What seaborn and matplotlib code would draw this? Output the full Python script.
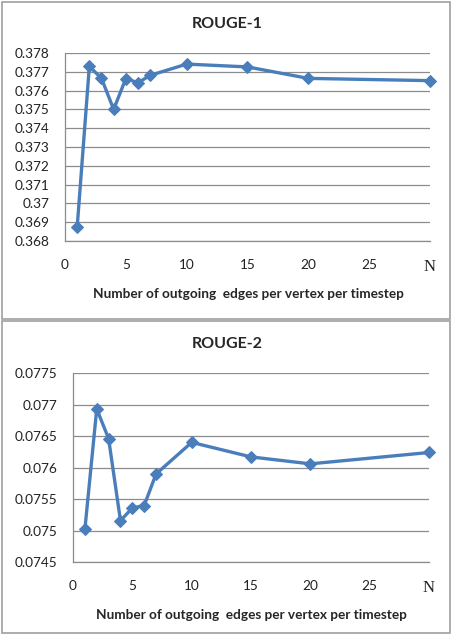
import numpy as np
import pandas as pd
import seaborn as sns
import matplotlib.pyplot as plt
from matplotlib.patches import Rectangle

# values (x = 30 is the "N" column)
edges = [1, 2, 3, 4, 5, 6, 7, 10, 15, 20, 30]
rouge1 = [0.36873, 0.37729, 0.37665, 0.37500, 0.37664, 0.37642, 0.37681,
          0.37741, 0.37726, 0.37665, 0.37653]
rouge2 = [0.07502, 0.07693, 0.07646, 0.07516, 0.07536, 0.07540, 0.07590,
          0.07640, 0.07617, 0.07606, 0.07624]
xticks = [0, 5, 10, 15, 20, 25, 30]
xtick_labels = ["0", "5", "10", "15", "20", "25", "N"]
r1_ticks = [0.368, 0.369, 0.37, 0.371, 0.372, 0.373, 0.374, 0.375, 0.376, 0.377, 0.378]
r2_ticks = [0.0745, 0.075, 0.0755, 0.076, 0.0765, 0.077, 0.0775]
xlabel = "Number of outgoing  edges per vertex per timestep"

sns.set_theme(style="white")
plt.rcParams["font.family"] = ["Lato", "DejaVu Sans"]

blue = "#4a7ebb"
grid = "#8c8c8c"

fig = plt.figure(figsize=(4.52, 6.34), dpi=100)

panels = [
    ("ROUGE-1", rouge1, r1_ticks, [0.1438, 0.6199, 0.8075, 0.2965], 0.962, 0.536, 0.549),
    ("ROUGE-2", rouge2, r2_ticks, [0.1615, 0.1131, 0.7876, 0.2986], 0.457, 0.030, 0.557),
]

for title, vals, yt, rect, ty, ly, lx in panels:
    ax = fig.add_axes(rect)
    df = pd.DataFrame({"x": edges, "y": vals})
    sns.lineplot(data=df, x="x", y="y", ax=ax, color=blue, lw=2.4,
                 marker="D", markersize=6.5, markeredgecolor=blue, clip_on=False)
    ax.set_xlim(0, 30)
    ax.set_ylim(yt[0], yt[-1])
    ax.set_yticks(yt)
    ax.set_yticklabels([("%g" % v) for v in yt])
    ax.set_xticks(xticks)
    ax.set_xticklabels(xtick_labels)
    ax.tick_params(axis="both", length=0, labelsize=9.8, colors="#222222")
    ax.tick_params(axis="y", pad=11)
    ax.tick_params(axis="x", pad=13)
    last = ax.xaxis.get_ticklabels()[-1]
    last.set_family(["Liberation Serif"])
    last.set_fontsize(12)
    ax.grid(axis="y", color=grid, lw=0.9)
    ax.set_axisbelow(True)
    for s in ("top", "right"):
        ax.spines[s].set_visible(False)
    for s in ("left", "bottom"):
        ax.spines[s].set_color(grid)
        ax.spines[s].set_linewidth(0.9)
    ax.set_xlabel("")
    ax.set_ylabel("")
    fig.text(0.502, ty, title, ha="center", va="center", fontsize=11.5, fontweight="bold")
    fig.text(lx, ly, xlabel, ha="center", va="center", fontsize=9.8, fontweight="bold")

# panel borders
fig.patches.append(Rectangle((0.004, 0.497), 0.992, 0.5, transform=fig.transFigure,
                             fill=False, ec="#a0a0a0", lw=1.2))
fig.patches.append(Rectangle((0.004, 0.002), 0.992, 0.491, transform=fig.transFigure,
                             fill=False, ec="#a0a0a0", lw=1.2))

fig.savefig("out.png", dpi=100, facecolor="white")
